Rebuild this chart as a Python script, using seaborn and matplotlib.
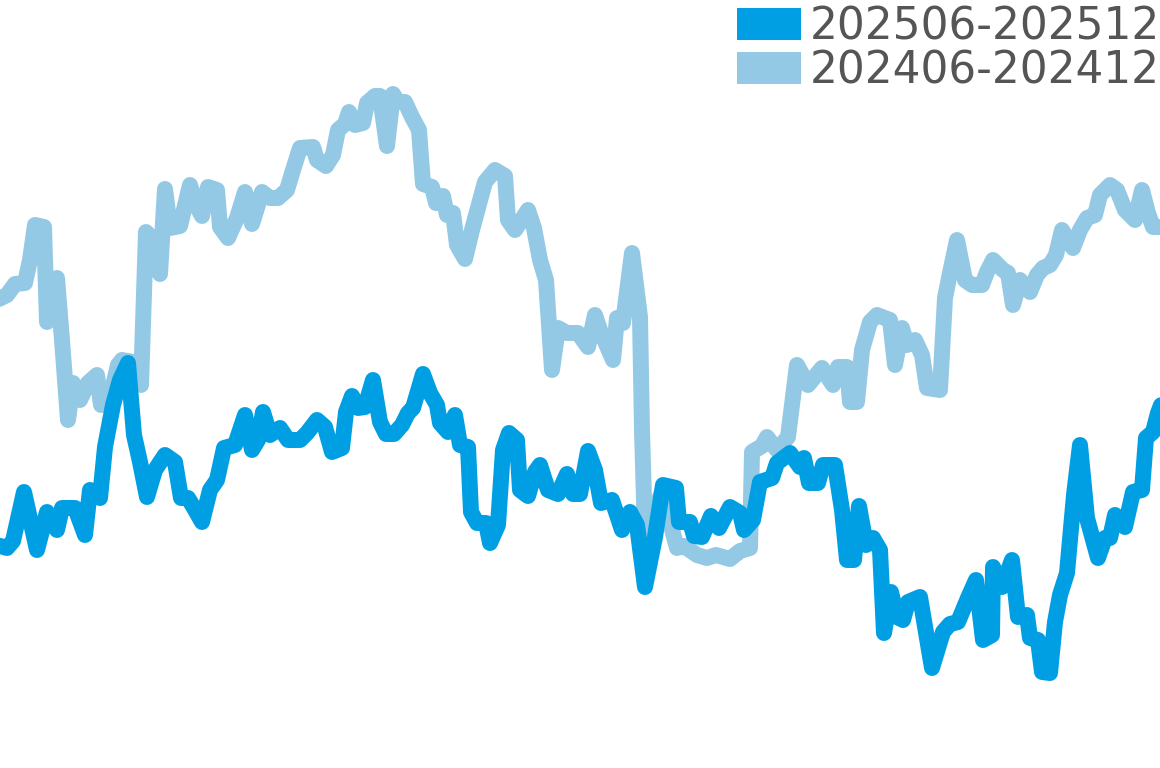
import matplotlib
matplotlib.use("Agg")
import matplotlib.pyplot as plt
from matplotlib.patches import Patch
import seaborn as sns
import pandas as pd

# period labels and colours
labels = ["202506-202512", "202406-202412"]
colors = ["#009FE3", "#93C9E4"]

# 202506-202512: day position / index level
days_new = [-3, 7, 13, 24, 37, 47, 57, 62, 75, 85, 90, 100, 105, 113, 120, 128,
            134, 140, 147, 155, 165, 175, 181, 188, 194, 202, 210, 217, 224, 235,
            245, 252, 258, 263, 270, 280, 288, 300, 307, 317, 325, 332, 342, 346,
            352, 358, 365, 373, 380, 386, 394, 402, 408, 413, 423, 430, 437, 440,
            448, 455, 460, 468, 471, 477, 486, 490, 498, 503, 509, 517, 520, 528,
            535, 540, 548, 558, 567, 573, 580, 588, 595, 601, 612, 622, 630, 637,
            645, 655, 663, 676, 679, 690, 694, 702, 711, 719, 730, 740, 744, 753,
            760, 772, 777, 790, 800, 804, 809, 818, 823, 835, 842, 847, 854, 859,
            866, 873, 880, 884, 891, 897, 903, 908, 920, 932, 943, 950, 958, 968,
            976, 983, 992, 993, 1002, 1012, 1018, 1027, 1030, 1038, 1042, 1050,
            1055, 1060, 1067, 1074, 1080, 1087, 1098, 1105, 1110, 1115, 1125, 1133,
            1142, 1146, 1153, 1158, 1163]
level_new = [223, 220, 227, 276, 218, 256, 238, 260, 260, 233, 278, 270, 321, 363,
             388, 405, 333, 306, 271, 298, 313, 306, 270, 270, 260, 246, 278, 288,
             320, 323, 353, 318, 328, 356, 333, 340, 328, 328, 335, 348, 341, 316,
             320, 356, 372, 360, 361, 388, 346, 334, 334, 343, 355, 360, 394, 375,
             363, 345, 336, 353, 323, 321, 256, 245, 245, 225, 243, 318, 335, 328,
             278, 272, 296, 303, 278, 274, 294, 274, 274, 317, 298, 265, 268, 238,
             256, 243, 181, 231, 283, 280, 246, 246, 232, 231, 252, 240, 261, 255,
             238, 248, 286, 290, 305, 315, 301, 310, 285, 285, 303, 303, 258, 208,
             208, 262, 223, 230, 218, 135, 176, 151, 148, 166, 171, 100, 136, 144,
             146, 170, 188, 128, 133, 201, 181, 208, 151, 153, 130, 128, 96, 95,
             146, 173, 195, 273, 323, 250, 210, 230, 230, 253, 241, 276, 278, 330,
             336, 355, 368]

# 202406-202412
days_old = [-3, 7, 15, 25, 30, 35, 44, 47, 52, 57, 62, 68, 73, 80, 88, 97, 101,
            112, 118, 122, 133, 141, 146, 154, 160, 165, 170, 180, 190, 196, 202,
            208, 217, 220, 228, 237, 245, 252, 262, 270, 278, 287, 293, 300, 313,
            317, 326, 333, 338, 345, 349, 355, 363, 367, 375, 380, 387, 393, 398,
            405, 412, 419, 423, 432, 436, 443, 447, 453, 457, 465, 472, 478, 485,
            495, 505, 508, 515, 528, 534, 540, 546, 552, 558, 567, 578, 588, 595,
            600, 613, 617, 623, 632, 640, 642, 645, 662, 677, 684, 697, 707, 716,
            730, 740, 750, 752, 762, 767, 777, 788, 797, 808, 822, 833, 838, 847,
            850, 857, 862, 870, 877, 890, 895, 902, 907, 915, 922, 927, 940, 945,
            950, 957, 965, 972, 982, 987, 993, 1003, 1008, 1013, 1020, 1030, 1037,
            1043, 1050, 1056, 1062, 1073, 1080, 1087, 1095, 1100, 1110, 1117, 1125,
            1135, 1142, 1148, 1153, 1163]
level_old = [468, 473, 484, 485, 508, 543, 541, 446, 468, 490, 428, 348, 385, 368,
             385, 393, 363, 378, 403, 408, 406, 383, 536, 528, 494, 579, 540, 542,
             583, 563, 552, 581, 578, 541, 530, 550, 576, 544, 576, 570, 570, 578,
             598, 620, 621, 608, 602, 613, 638, 644, 656, 643, 645, 665, 672, 672,
             622, 674, 666, 666, 651, 638, 584, 581, 565, 572, 553, 555, 523, 509,
             538, 560, 586, 598, 592, 548, 538, 558, 540, 508, 488, 398, 440, 435,
             435, 421, 453, 438, 408, 450, 445, 515, 451, 338, 233, 276, 220, 222,
             213, 210, 213, 209, 217, 220, 316, 322, 331, 318, 331, 403, 383, 400,
             383, 401, 401, 366, 366, 418, 446, 453, 448, 403, 440, 423, 428, 413,
             380, 378, 470, 495, 528, 488, 483, 483, 496, 508, 498, 495, 463, 488,
             476, 493, 500, 503, 513, 538, 520, 538, 550, 553, 573, 583, 578, 558,
             548, 578, 555, 541, 541]

df_new = pd.DataFrame({"day": days_new, "level": level_new})
df_old = pd.DataFrame({"day": days_old, "level": level_old})

sns.set_style("white")

fig = plt.figure(figsize=(11.6, 7.68), dpi=100)
ax = fig.add_axes([0, 0, 1, 1])

line_kw = dict(linewidth=11.5, solid_capstyle="round", solid_joinstyle="round",
               estimator=None, sort=False, ax=ax)
sns.lineplot(data=df_old, x="day", y="level", color=colors[1], **line_kw)
sns.lineplot(data=df_new, x="day", y="level", color=colors[0], **line_kw)

ax.set_xlim(0, 1160)
ax.set_ylim(0, 768)
ax.axis("off")

handles = [Patch(facecolor=c, edgecolor="none") for c in colors]
leg = ax.legend(handles, labels, loc="upper right", bbox_to_anchor=(1.0, 0.993),
                frameon=False, fontsize=31.5, handlelength=1.47, handleheight=0.73,
                handletextpad=0.2, labelspacing=0.02, borderpad=0,
                borderaxespad=0)
for t in leg.get_texts():
    t.set_color("#555555")

fig.savefig("out.png", dpi=100)
